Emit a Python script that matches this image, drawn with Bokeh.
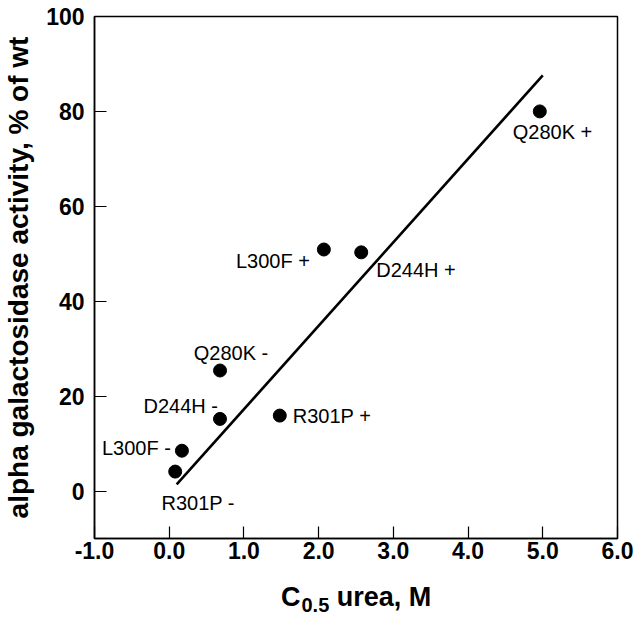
from bokeh.plotting import figure
from bokeh.models import FixedTicker, PrintfTickFormatter, ColumnDataSource, Div
from bokeh.layouts import column
from bokeh.core.properties import value
from bokeh.embed import file_html
from bokeh.resources import INLINE

# ---- data ----
mutants = ["Q280K +", "D244H +", "L300F +", "Q280K -", "D244H -", "L300F -", "R301P -", "R301P +"]
c05_urea = [4.96, 2.57, 2.07, 0.68, 0.68, 0.17, 0.08, 1.48]
activity = [80.0, 50.3, 50.9, 25.4, 15.2, 8.5, 4.1, 15.9]
fit_x = [0.10, 5.00]
fit_y = [1.4, 87.6]
x_ticks = [-1, 0, 1, 2, 3, 4, 5, 6]
y_ticks = [0, 20, 40, 60, 80, 100]

# ---- label placement (styling, screen-pixel offsets) ----
label_dx = [-27, 15, -14, 11, -2, -11, 23, 13]
label_dy = [21, 18, 11, -18, -13, -3, 31, 0]
label_align = ["left", "left", "right", "center", "right", "right", "center", "left"]

FONT = "Liberation Sans"

p = figure(width=634, height=575, x_range=(-1, 6), y_range=(-10, 100),
           output_backend="svg", toolbar_location=None,
           min_border_left=92, min_border_right=17, min_border_top=16, min_border_bottom=37)

p.xgrid.visible = False
p.ygrid.visible = False
p.background_fill_color = "white"
p.border_fill_color = "white"
p.outline_line_color = "black"
p.outline_line_width = 1.5
p.outline_line_alpha = 1.0

for ax in (p.xaxis[0], p.yaxis[0]):
    ax.axis_line_color = "black"
    ax.axis_line_width = 1.5
    ax.major_tick_in = 12
    ax.major_tick_out = 0
    ax.major_tick_line_color = "black"
    ax.major_tick_line_width = 1.2
    ax.minor_tick_line_color = None
    ax.major_label_text_font = FONT
    ax.major_label_text_font_style = "bold"
    ax.major_label_text_font_size = "23px"
    ax.major_label_text_color = "black"

p.xaxis.ticker = FixedTicker(ticks=x_ticks)
p.xaxis.formatter = PrintfTickFormatter(format="%.1f")
p.xaxis.major_label_standoff = 3

p.yaxis.ticker = FixedTicker(ticks=y_ticks)
p.yaxis.major_label_standoff = 10
p.yaxis.axis_label = "alpha galactosidase activity, % of wt"
p.yaxis.axis_label_text_font = FONT
p.yaxis.axis_label_text_font_style = "bold"
p.yaxis.axis_label_text_font_size = "28px"
p.yaxis.axis_label_text_color = "black"
p.yaxis.axis_label_standoff = 9

src = ColumnDataSource(dict(x=c05_urea, y=activity, name=mutants,
                            dx=label_dx, dy=label_dy, align=label_align))

p.line(fit_x, fit_y, line_width=2.6, line_color="black")
p.scatter("x", "y", source=src, size=13, fill_color="black", line_color="black")
p.text("x", "y", text="name", source=src, x_offset="dx", y_offset="dy",
       text_align="align", text_baseline="middle",
       text_font=value(FONT), text_font_size="20px", text_color="black")

# x-axis title with subscript: C_0.5 urea, M
xtitle = Div(
    text=('<div style="padding-left:281px; padding-top:8px; white-space:nowrap; '
          'font-family:\'Liberation Sans\'; font-weight:bold; font-size:27px; '
          'line-height:29px; color:black;">C<sub style="font-size:20px; margin-left:1px; '
          'vertical-align:-6px; line-height:0;">0.5</sub> urea, M</div>'),
    width=634, height=46, margin=(0, 0, 0, 0))

layout = column(p, xtitle, spacing=0)
layout.styles = {"position": "absolute", "left": "0px", "top": "0px"}

open("out.html", "w").write(file_html(layout, INLINE))
